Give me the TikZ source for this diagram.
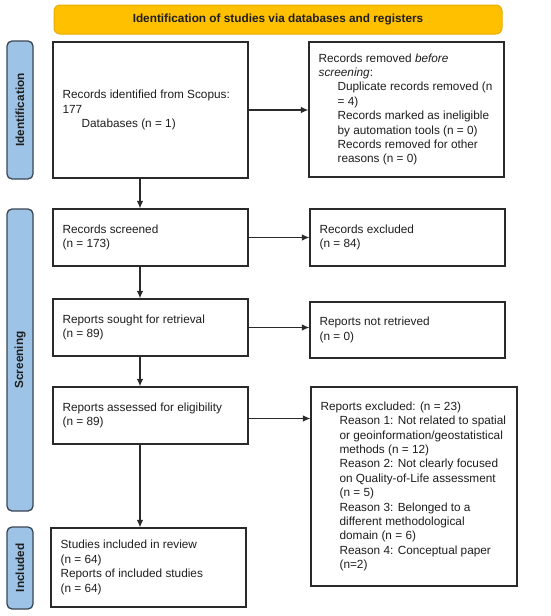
\documentclass[tikz,border=0pt]{standalone}
\usepackage{fontspec}
\setmainfont{Liberation Sans}
\usetikzlibrary{arrows.meta,calc}
\definecolor{bannerfill}{HTML}{FFC000}
\definecolor{bannerdraw}{HTML}{E8AE00}
\definecolor{sidefill}{HTML}{9DC3E6}
\definecolor{sidedraw}{HTML}{3A4652}
\definecolor{boxdraw}{HTML}{2A2A2A}
\definecolor{txt}{HTML}{1E1E1E}
\begin{document}
\begin{tikzpicture}[x=1pt,y=-1pt,
  box/.style={draw=boxdraw,line width=1.2pt,fill=white,minimum width=195pt,inner sep=0pt},
  btxt/.style={anchor=west,align=left,inner sep=0pt,text=txt,font=\fontsize{11.8}{14.4}\selectfont},
  banner/.style={draw=bannerdraw,line width=1pt,fill=bannerfill,rounded corners=6pt,minimum width=448pt,minimum height=29pt,inner sep=0pt,font=\bfseries\fontsize{11.8}{14}\selectfont,text=txt},
  side/.style={draw=sidedraw,line width=1.3pt,fill=sidefill,rounded corners=5pt,minimum width=26pt,inner sep=0pt},
  stxt/.style={rotate=90,font=\bfseries\fontsize{11.8}{14}\selectfont,text=txt,inner sep=0pt},
  arr/.style={draw=boxdraw,line width=1.1pt,-{Latex[length=7.5pt,width=6.5pt]}}
]
\useasboundingbox (0,0) rectangle (550,616);

\node[banner] (ban) at (278,19.5) {Identification of studies via databases and registers};

\node[side,minimum height=138pt] (s1) at (20,110) {};
\node[stxt] (s1t) at (s1.center) {Identification};
\node[side,minimum height=302pt] (s2) at (20,360) {};
\node[stxt] (s2t) at (s2.center) {Screening};
\node[side,minimum height=82pt] (s3) at (20,568) {};
\node[stxt] (s3t) at (s3.center) {Included};

\node[box,minimum height=136pt] (b1) at (150.5,110) {};
\node[btxt] (t1) at ([xshift=10pt]b1.west) {Records identified from Scopus:\\177\\\hspace*{19pt}Databases (n = 1)};

\node[box,minimum height=135pt] (b2) at (406.5,109.5) {};
\node[btxt] (t2) at ([xshift=10pt]b2.west) {Records removed \textit{before}\\\textit{screening}:\\\hspace*{19pt}Duplicate records removed (n\\\hspace*{19pt}= 4)\\\hspace*{19pt}Records marked as ineligible\\\hspace*{19pt}by automation tools (n = 0)\\\hspace*{19pt}Records removed for other\\\hspace*{19pt}reasons (n = 0)};

\node[box,minimum height=57pt] (b3) at (150.5,237.5) {};
\node[btxt] (t3) at ([xshift=10pt]b3.west) {Records screened\\(n = 173)};

\node[box,minimum height=57pt] (b4) at (407.5,237.5) {};
\node[btxt] (t4) at ([xshift=10pt]b4.west) {Records excluded\\(n = 84)};

\node[box,minimum height=57pt] (b5) at (150.5,327.5) {};
\node[btxt] (t5) at ([xshift=10pt]b5.west) {Reports sought for retrieval\\(n = 89)};

\node[box,minimum height=56pt] (b6) at (407.5,330) {};
\node[btxt] (t6) at ([xshift=10pt]b6.west) {Reports not retrieved\\(n = 0)};

\node[box,minimum height=57pt] (b7) at (150.5,415.5) {};
\node[btxt] (t7) at ([xshift=10pt]b7.west) {Reports assessed for eligibility\\(n = 89)};

\node[box,minimum width=206pt,minimum height=199pt] (b8) at (414,486.5) {};
\node[btxt] (t8) at ([xshift=10pt]b8.west) {Reports excluded: (n = 23)\\\hspace*{19pt}Reason 1: Not related to spatial\\\hspace*{19pt}or geoinformation/geostatistical\\\hspace*{19pt}methods (n = 12)\\\hspace*{19pt}Reason 2: Not clearly focused\\\hspace*{19pt}on Quality-of-Life assessment\\\hspace*{19pt}(n = 5)\\\hspace*{19pt}Reason 3: Belonged to a\\\hspace*{19pt}different methodological\\\hspace*{19pt}domain (n = 6)\\\hspace*{19pt}Reason 4: Conceptual paper\\\hspace*{19pt}(n=2)};

\node[box,minimum height=79pt] (b9) at (148.5,567.5) {};
\node[btxt] (t9) at ([xshift=10pt]b9.west) {Studies included in review\\(n = 64)\\Reports of included studies\\(n = 64)};

\draw[arr] (b1.east) -- (b2.west |- b1.east);
\draw[arr] (b3.east) -- (b4.west |- b3.east);
\draw[arr] (b5.east) -- (b6.west |- b5.east);
\draw[arr] ($(b7.east)+(0,3)$) -- ($(b8.west |- b7.east)+(0,3)$);

\draw[arr] ([xshift=-10.5pt]b1.south) -- ([xshift=-10.5pt]b3.north);
\draw[arr] ([xshift=-10.5pt]b3.south) -- ([xshift=-10.5pt]b5.north);
\draw[arr] ([xshift=-10.5pt]b5.south) -- ([xshift=-10.5pt]b7.north);
\draw[arr] ([xshift=-10.5pt]b7.south) -- ([xshift=-8.5pt]b9.north);
\end{tikzpicture}
\end{document}
